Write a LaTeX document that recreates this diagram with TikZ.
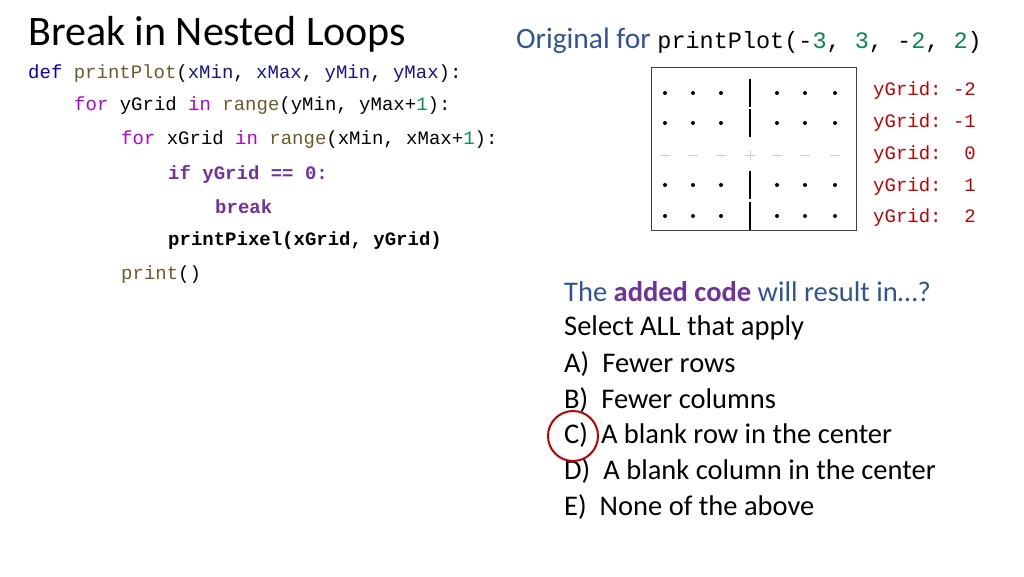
\documentclass[tikz,border=0pt]{standalone}
\usepackage{fontspec}
\setmainfont{Carlito}
\setmonofont{Liberation Mono}
\definecolor{kwblue}{RGB}{0,0,200}
\definecolor{fnbrown}{RGB}{110,90,40}
\definecolor{varblue}{RGB}{20,20,140}
\definecolor{kwpink}{RGB}{175,0,219}
\definecolor{numgreen}{RGB}{9,134,88}
\definecolor{kwpurple}{RGB}{112,48,160}
\definecolor{titleblue}{RGB}{47,84,150}
\definecolor{labred}{RGB}{192,0,0}
\tikzset{
  code/.style={anchor=west,inner sep=0pt,font=\fontsize{19}{19}\selectfont\ttfamily},
  qtext/.style={anchor=west,inner sep=0pt,font=\fontsize{28.5}{28.5}\selectfont},
  ylabel/.style={anchor=west,inner sep=0pt,text=labred,font=\fontsize{19}{19}\selectfont\ttfamily},
  pixel/.style={circle,fill=black,inner sep=0pt,minimum size=4pt}
}
\begin{document}
\begin{tikzpicture}[x=1pt,y=-1pt]
\useasboundingbox (0,0) rectangle (1024,576);
\node[anchor=west,inner sep=0pt,font=\fontsize{42}{42}\selectfont] (title) at (28,34) {Break in Nested Loops};
% code
\node[code] (l1) at (28,74) {\textcolor{kwblue}{def} \textcolor{fnbrown}{printPlot}(\textcolor{varblue}{xMin}, \textcolor{varblue}{xMax}, \textcolor{varblue}{yMin}, \textcolor{varblue}{yMax}):};
\node[code] (l2) at (74,106) {\textcolor{kwpink}{for} yGrid \textcolor{kwpink}{in} \textcolor{fnbrown}{range}(yMin, yMax+\textcolor{numgreen}{1}):};
\node[code] (l3) at (121,140) {\textcolor{kwpink}{for} xGrid \textcolor{kwpink}{in} \textcolor{fnbrown}{range}(xMin, xMax+\textcolor{numgreen}{1}):};
\node[code,text=kwpurple,font=\fontsize{19}{19}\selectfont\ttfamily\bfseries] (l4) at (168,174) {if yGrid == 0:};
\node[code,text=kwpurple,font=\fontsize{19}{19}\selectfont\ttfamily\bfseries] (l5) at (215,207) {break};
\node[code,font=\fontsize{19}{19}\selectfont\ttfamily\bfseries] (l6) at (168,241) {printPixel(xGrid, yGrid)};
\node[code] (l7) at (121,275) {\textcolor{fnbrown}{print}()};
% original output
\node[anchor=west,inner sep=0pt,text=titleblue,font=\fontsize{29.5}{29.5}\selectfont] (orig) at (516,41) {Original for \texttt{\fontsize{23.5}{23.5}\selectfont\textcolor{black}{printPlot(-\textcolor{numgreen}{3}, \textcolor{numgreen}{3}, -\textcolor{numgreen}{2}, \textcolor{numgreen}{2})}}};
\draw[line width=1pt,black!75] (651,67) rectangle (856,230);
\foreach \y in {93,123,185,216}{
  \foreach \x in {665,693,721,777,805,835}
    \node[pixel] at (\x,\y) {};
  \draw[line width=1.8pt] (750,\y-14) -- (750,\y+14);
}
\foreach \x in {665,693,721,777,805,835}
  \draw[black!20,line width=1pt] (\x-5,155) -- (\x+5,155);
\draw[black!20,line width=1pt] (745,155) -- (755,155) (750,150) -- (750,160);
\node[ylabel] (ym2) at (873,91) {yGrid: -2};
\node[ylabel] (ym1) at (873,123) {yGrid: -1};
\node[ylabel] (y0) at (873,155) {yGrid:~~0};
\node[ylabel] (y1) at (873,187) {yGrid:~~1};
\node[ylabel] (y2) at (873,218) {yGrid:~~2};
% question
\node[qtext,text=titleblue] (q) at (564,292) {The \textcolor{kwpurple}{\bfseries added code} will result in…?};
\node[qtext] (sel) at (564,328) {Select ALL that apply};
\node[qtext] (a) at (564,364) {A)\hspace{13pt}Fewer rows};
\node[qtext] (b) at (564,400) {B)\hspace{13pt}Fewer columns};
\node[qtext] (c) at (564,435) {C)\hspace{13pt}A blank row in the center};
\node[qtext] (d) at (564,471) {D)\hspace{13pt}A blank column in the center};
\node[qtext] (e) at (564,507) {E)\hspace{13pt}None of the above};
\node[draw=labred,line width=2pt,circle,minimum size=50pt] (mark) at (573,436) {};
\end{tikzpicture}
\end{document}
